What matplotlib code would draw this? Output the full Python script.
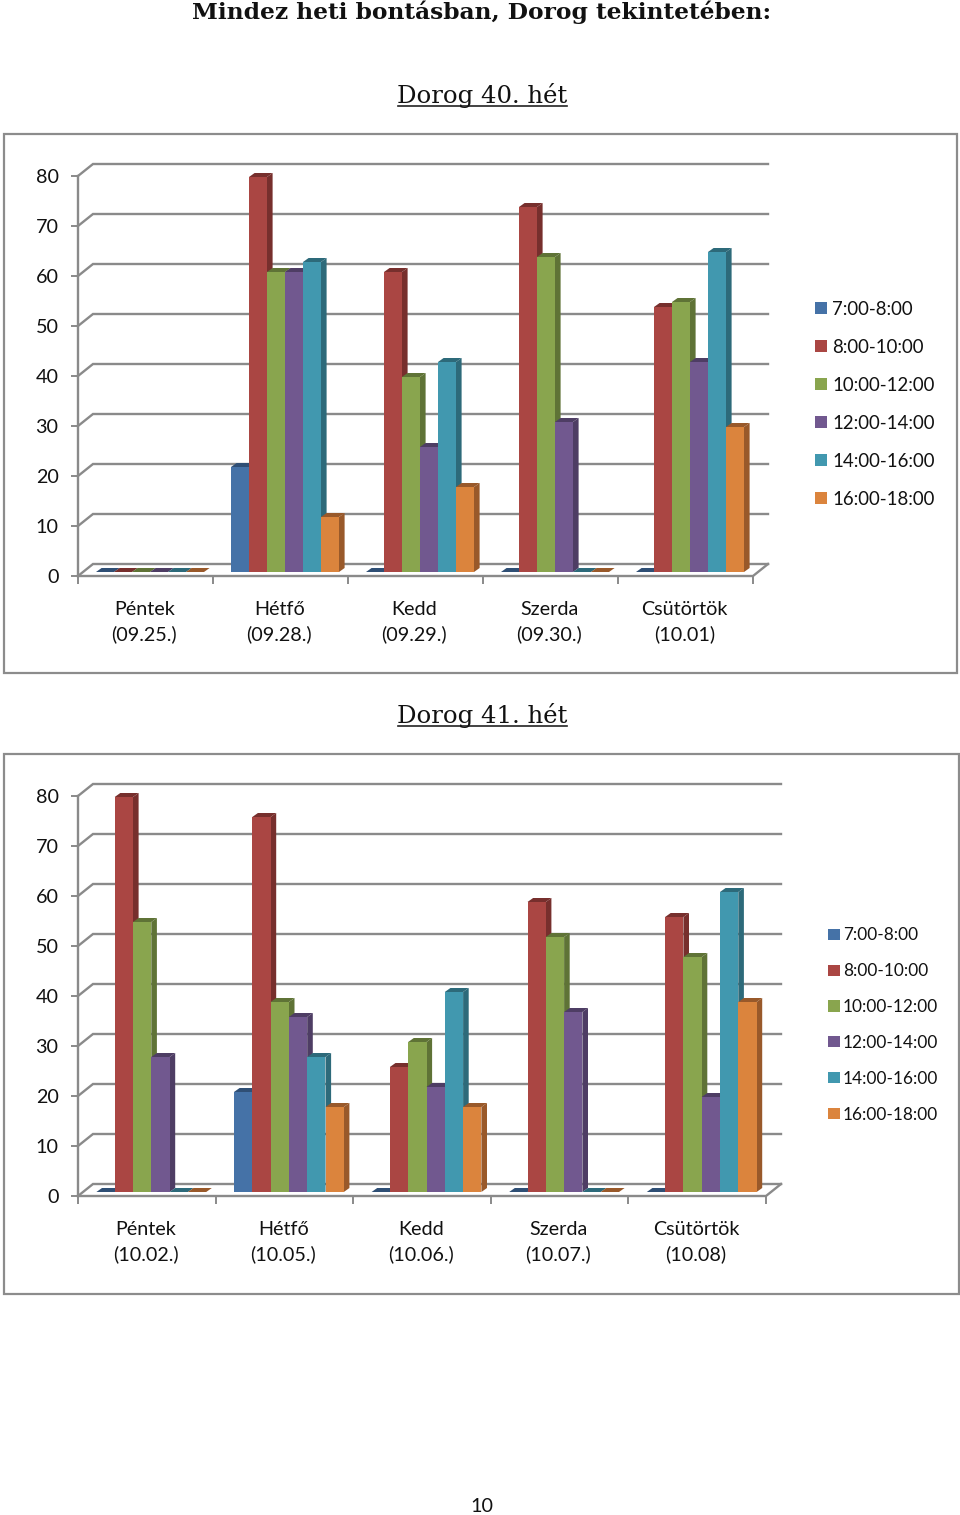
import matplotlib
matplotlib.use("Agg")
import matplotlib.pyplot as plt
from matplotlib.patches import Patch, Polygon, Rectangle
from matplotlib.lines import Line2D

W, H = 960, 1515

series_names = ["7:00-8:00", "8:00-10:00", "10:00-12:00", "12:00-14:00", "14:00-16:00", "16:00-18:00"]
colors = ["#4572a7", "#aa4643", "#89a54e", "#71588f", "#4198af", "#db843d"]
dark = ["#2f4f75", "#772f2d", "#5f7336", "#4e3d64", "#2d6a7a", "#99592a"]
yticks = [0, 10, 20, 30, 40, 50, 60, 70, 80]

days_40 = ["Péntek\n(09.25.)", "Hétfő\n(09.28.)", "Kedd\n(09.29.)", "Szerda\n(09.30.)", "Csütörtök\n(10.01)"]
week_40 = [
    [0, 21, 0, 0, 0],
    [0, 79, 60, 73, 53],
    [0, 60, 39, 63, 54],
    [0, 60, 25, 30, 42],
    [0, 62, 42, 0, 64],
    [0, 11, 17, 0, 29],
]

days_41 = ["Péntek\n(10.02.)", "Hétfő\n(10.05.)", "Kedd\n(10.06.)", "Szerda\n(10.07.)", "Csütörtök\n(10.08)"]
week_41 = [
    [0, 20, 0, 0, 0],
    [79, 75, 25, 58, 55],
    [54, 38, 30, 51, 47],
    [27, 35, 21, 36, 19],
    [0, 27, 40, 0, 60],
    [0, 17, 17, 0, 38],
]

GRAY = "#8a8a8a"
plt.rcParams["font.family"] = ["Lato", "DejaVu Sans"]
fig = plt.figure(figsize=(W / 100, H / 100), dpi=100)


def fx(px):
    return px / W


def fy(py):
    return 1 - py / H


def add_frame(x0, y0, x1, y1):
    fig.add_artist(Rectangle((fx(x0), fy(y1)), (x1 - x0) / W, (y1 - y0) / H, transform=fig.transFigure,
                             fill=False, edgecolor="#8c8c8c", linewidth=1.6))


def heading(text, y, x0, x1):
    fig.text(fx((x0 + x1) / 2), fy(y + 2), text, family="DejaVu Serif", fontsize=17.6, ha="center", va="center",
             color="#111111")
    fig.add_artist(Line2D([fx(x0), fx(x1)], [fy(y + 12), fy(y + 12)], color="#222222", linewidth=1.2))


def draw_chart(days, values, left, right, y0, y80, leg_x, leg_y, leg_size, leg_space, leg_hlen, leg_pad):
    ax = fig.add_axes([fx(left), fy(y0), (right - left) / W, (y0 - y80) / H])
    ax.set_xlim(0, len(days))
    ax.set_ylim(0, 80)
    ax.patch.set_alpha(0)
    for s in ["top", "right", "bottom"]:
        ax.spines[s].set_visible(False)
    ax.spines["left"].set_color(GRAY)
    ax.spines["left"].set_linewidth(1.7)

    # px to data units
    ux = len(days) / (right - left)
    uy = 80 / (y0 - y80)
    wall_dx, wall_dy = 15 * ux, 12 * uy
    bar_dx, bar_dy = 5.6 * ux, 4 * uy
    n_days = len(days)

    # walls and floor
    for v in yticks:
        ax.plot([0, wall_dx, n_days + wall_dx], [v, v + wall_dy, v + wall_dy], color=GRAY, lw=1.7,
                clip_on=False, zorder=1, solid_joinstyle="miter")
    ax.plot([0, n_days, n_days + wall_dx], [0, 0, wall_dy], color=GRAY, lw=1.7, clip_on=False, zorder=1)

    ax.set_yticks(yticks)
    ax.set_xticks(range(n_days + 1))
    ax.set_xticklabels([])
    ax.set_xticks([i + 0.5 - 1.2 * ux for i in range(n_days)], minor=True)
    ax.set_xticklabels(days, minor=True, fontsize=14.2, color="#111111", linespacing=1.5)
    ax.tick_params(axis="x", which="major", length=6, width=1.4, color=GRAY)
    ax.tick_params(axis="x", which="minor", length=0, pad=18)
    ax.tick_params(axis="y", length=5, width=1.4, color=GRAY, labelsize=14.2, labelcolor="#111111", pad=9)

    # bars
    n = len(values)
    bw = (18.0 if right - left < 680 else 18.3) * ux
    base = 4 * uy
    for d in range(n_days):
        start = d + 0.5 - n * bw / 2 + 4.5 * ux
        for s in range(n):
            v = values[s][d]
            x = start + s * bw
            top = base + v
            ax.add_patch(Polygon([(x + bw, base), (x + bw + bar_dx, base + bar_dy),
                                  (x + bw + bar_dx, top + bar_dy), (x + bw, top)],
                                 closed=True, facecolor=dark[s], edgecolor="none", clip_on=False, zorder=3))
            ax.add_patch(Polygon([(x, top), (x + bar_dx, top + bar_dy),
                                  (x + bw + bar_dx, top + bar_dy), (x + bw, top)],
                                 closed=True, facecolor=dark[s], edgecolor="none", clip_on=False, zorder=3))
            ax.bar(x, v, bw, bottom=base, align="edge", color=colors[s], clip_on=False, zorder=3)

    handles = [Patch(facecolor=c, edgecolor="none") for c in colors]
    fig.legend(handles, series_names, loc="upper left", bbox_to_anchor=(fx(leg_x), fy(leg_y)),
               frameon=False, fontsize=leg_size, labelspacing=leg_space, handlelength=leg_hlen,
               handleheight=0.62, handletextpad=leg_pad, borderpad=0, borderaxespad=0, labelcolor="#111111")
    return ax


fig.text(fx(482), fy(12), "Mindez heti bontásban, Dorog tekintetében:", family="DejaVu Serif", fontweight="bold",
         fontsize=16.8, ha="center", va="center", color="#111111")

heading("Dorog 40. hét", 94, 398, 567)
add_frame(4, 134, 957, 673)
draw_chart(days_40, week_40, 78, 753, 576, 176, 815, 301, 13.4, 1.126, 0.645, 0.27)

heading("Dorog 41. hét", 714, 398, 567)
add_frame(4, 754, 959, 1294)
draw_chart(days_41, week_41, 78, 766, 1196, 796, 828, 927.5, 12.4, 1.15, 0.67, 0.2)

fig.text(fx(482), fy(1507), "10", fontsize=14.2, ha="center", va="center", color="#111111")

fig.savefig("out.png", dpi=100)
